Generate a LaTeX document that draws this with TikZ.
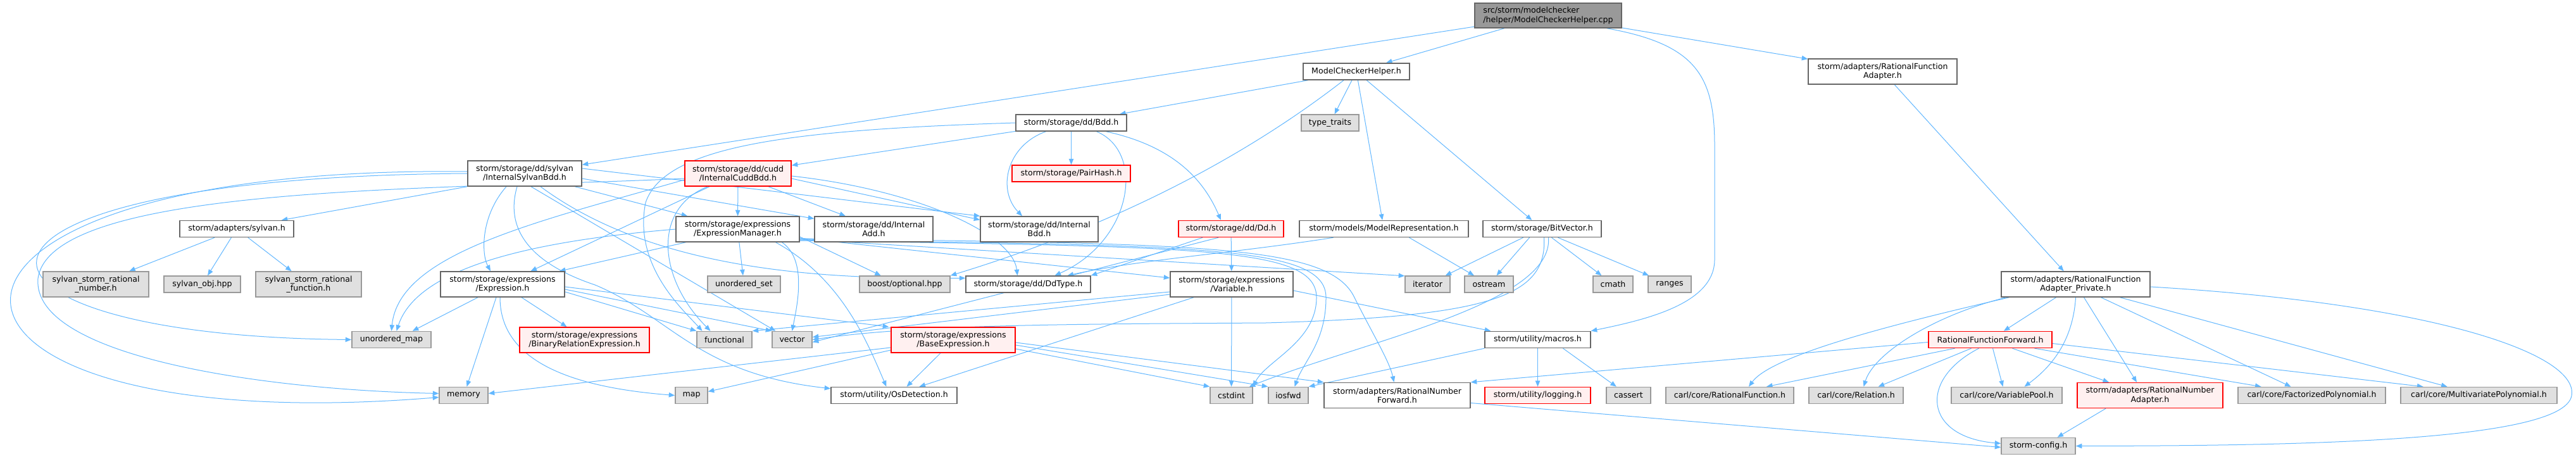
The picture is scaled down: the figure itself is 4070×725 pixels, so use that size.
\documentclass[tikz,border=0pt]{standalone}
\usepackage{fontspec}
\setmainfont{DejaVu Sans}
\usepackage{xcolor}
\definecolor{EdgeBlue}{RGB}{99,184,255}
\definecolor{BoxBorder}{RGB}{102,102,102}
\definecolor{SysBorder}{RGB}{153,153,153}
\definecolor{SysFill}{RGB}{224,224,224}
\definecolor{RedBorder}{RGB}{255,0,0}
\definecolor{RedFill}{RGB}{255,240,240}
\definecolor{RootFill}{RGB}{153,153,153}
\usepackage{tikz}
\usetikzlibrary{arrows.meta, backgrounds}

\begin{document}
\begin{tikzpicture}[x=1pt, y=1pt,
    hfile/.style={draw=BoxBorder, fill=white, line width=1.5pt, inner sep=0pt, align=center,
      minimum height=26pt, font=\fontsize{12.6}{14.3}\selectfont},
    twoline/.style={minimum height=40pt},
    sysfile/.style={hfile, draw=SysBorder, fill=SysFill},
    redfile/.style={hfile, draw=RedBorder, fill=RedFill},
    srcfile/.style={hfile, fill=RootFill, align=left},
    dep/.style={draw=EdgeBlue, line width=1pt, -{Triangle[length=9.5pt, width=7.5pt]}}]
\useasboundingbox (0,0) rectangle (4070,-725);
% Archivos / Files
\node[srcfile, minimum width=232pt, minimum height=39pt] (root) at (2446,-24.5) {src/storm/modelchecker\\/helper/ModelCheckerHelper.cpp};
\node[hfile, minimum width=168pt] (mch) at (2143,-113) {ModelCheckerHelper.h};
\node[hfile, twoline, minimum width=235pt] (rfadapter) at (2974.5,-113) {storm/adapters/RationalFunction\\Adapter.h};
\node[hfile, minimum width=175pt] (bdd) at (1692.5,-194) {storm/storage/dd/Bdd.h};
\node[sysfile, minimum width=91pt] (typetraits) at (2101.5,-194) {type\_traits};
\node[hfile, twoline, minimum width=180pt] (sylvanbdd) at (829,-274) {storm/storage/dd/sylvan\\/InternalSylvanBdd.h};
\node[redfile, twoline, minimum width=168pt] (cuddbdd) at (1166,-274) {storm/storage/dd/cudd\\/InternalCuddBdd.h};
\node[redfile, minimum width=187pt] (pairhash) at (1692.5,-274) {storm/storage/PairHash.h};
\node[hfile, minimum width=180pt] (sylvanh) at (374,-361.5) {storm/adapters/sylvan.h};
\node[hfile, twoline, minimum width=195pt] (exprmgr) at (1165.5,-362) {storm/storage/expressions\\/ExpressionManager.h};
\node[hfile, twoline, minimum width=187pt] (internaladd) at (1380.5,-362) {storm/storage/dd/Internal\\Add.h};
\node[hfile, twoline, minimum width=186pt] (internalbdd) at (1642,-362) {storm/storage/dd/Internal\\Bdd.h};
\node[redfile, minimum width=166pt] (dd) at (1945,-361.5) {storm/storage/dd/Dd.h};
\node[hfile, minimum width=267pt] (modelrep) at (2186.5,-361.5) {storm/models/ModelRepresentation.h};
\node[hfile, minimum width=187pt] (bitvector) at (2436.5,-361.5) {storm/storage/BitVector.h};
\node[sysfile, twoline, minimum width=167pt] (srnumber) at (151.5,-449) {sylvan\_storm\_rational\\\_number.h};
\node[sysfile, minimum width=121pt] (sylvanobj) at (319.5,-449) {sylvan\_obj.hpp};
\node[sysfile, twoline, minimum width=167pt] (srfunction) at (487.5,-449) {sylvan\_storm\_rational\\\_function.h};
\node[hfile, twoline, minimum width=196pt] (expression) at (794,-449) {storm/storage/expressions\\/Expression.h};
\node[sysfile, minimum width=115pt] (uset) at (1175.5,-449) {unordered\_set};
\node[sysfile, minimum width=143pt] (boostopt) at (1429.5,-449) {boost/optional.hpp};
\node[hfile, minimum width=197pt] (ddtype) at (1624.5,-449) {storm/storage/dd/DdType.h};
\node[hfile, twoline, minimum width=194pt] (variable) at (1946,-449) {storm/storage/expressions\\/Variable.h};
\node[sysfile, minimum width=71pt] (iterator) at (2255.5,-449) {iterator};
\node[sysfile, minimum width=77pt] (ostream) at (2352.5,-449) {ostream};
\node[sysfile, minimum width=63pt] (cmath) at (2548.5,-449) {cmath};
\node[sysfile, minimum width=68pt] (ranges) at (2638,-449) {ranges};
\node[hfile, twoline, minimum width=235pt] (rfprivate) at (3279.5,-449) {storm/adapters/RationalFunction\\Adapter\_Private.h};
\node[sysfile, minimum width=125pt] (umap) at (618.5,-536.5) {unordered\_map};
\node[redfile, twoline, minimum width=205pt] (binrel) at (923.5,-537) {storm/storage/expressions\\/BinaryRelationExpression.h};
\node[sysfile, minimum width=87pt] (functional) at (1144.5,-536.5) {functional};
\node[sysfile, minimum width=63pt] (vector) at (1251.5,-536.5) {vector};
\node[redfile, twoline, minimum width=196pt] (baseexpr) at (1506,-537) {storm/storage/expressions\\/BaseExpression.h};
\node[hfile, minimum width=167pt] (macros) at (2429.5,-536.5) {storm/utility/macros.h};
\node[redfile, minimum width=195pt] (rfforward) at (3144.5,-536.5) {RationalFunctionForward.h};
\node[sysfile, minimum width=77pt] (memory) at (732.5,-624.5) {memory};
\node[sysfile, minimum width=51pt] (map) at (1092.5,-624.5) {map};
\node[hfile, minimum width=199pt] (osdet) at (1412.5,-624.5) {storm/utility/OsDetection.h};
\node[sysfile, minimum width=67pt] (cstdint) at (1945.5,-624.5) {cstdint};
\node[sysfile, minimum width=63pt] (iosfwd) at (2035.5,-624.5) {iosfwd};
\node[hfile, twoline, minimum width=231pt] (rnforward) at (2207.5,-624.5) {storm/adapters/RationalNumber\\Forward.h};
\node[redfile, minimum width=167pt] (logging) at (2429.5,-624.5) {storm/utility/logging.h};
\node[sysfile, minimum width=70pt] (cassert) at (2573,-624.5) {cassert};
\node[sysfile, minimum width=202pt] (carlrf) at (2733,-624.5) {carl/core/RationalFunction.h};
\node[sysfile, minimum width=149pt] (carlrel) at (2932.5,-624.5) {carl/core/Relation.h};
\node[sysfile, minimum width=175pt] (varpool) at (3170.5,-624.5) {carl/core/VariablePool.h};
\node[redfile, twoline, minimum width=230pt] (rnadapter) at (3397,-624.5) {storm/adapters/RationalNumber\\Adapter.h};
\node[sysfile, minimum width=233pt] (factpoly) at (3652.5,-624.5) {carl/core/FactorizedPolynomial.h};
\node[sysfile, minimum width=247pt] (multipoly) at (3916.5,-624.5) {carl/core/MultivariatePolynomial.h};
\node[sysfile, minimum width=117pt] (config) at (3220.5,-704.5) {storm-config.h};
\begin{scope}[on background layer]
\fill[white] (0,0) rectangle (4070,-725);
% Raiz / Root
\draw[dep] (root) -- (sylvanbdd);
\draw[dep] (root) -- (mch);
\draw[dep] ([xshift=-24pt]root.south east) .. controls (2680,-70) and (2709,-120) .. (2709,-230) -- (2709,-410) .. controls (2709,-480) and (2600,-505) .. (macros.north east);
\draw[dep] (root) -- (rfadapter);
% ModelCheckerHelper.h
\draw[dep] (mch) -- (bdd);
\draw[dep] (mch) -- (typetraits);
\draw[dep] (mch) -- (modelrep);
\draw[dep] (mch) -- (bitvector);
\draw[dep] ([xshift=-20pt]mch.south) .. controls (1900,-300) and (1650,-390) .. (boostopt.north east);
% Bdd.h
\draw[dep] (bdd) -- (cuddbdd);
\draw[dep] (bdd) -- (pairhash);
\draw[dep] ([xshift=-40pt]bdd.south) .. controls (1590,-230) and (1575,-300) .. ([xshift=-27pt]internalbdd.north);
\draw[dep] ([xshift=40pt]bdd.south) .. controls (1810,-240) and (1790,-380) .. ([xshift=42pt]ddtype.north);
\draw[dep] ([xshift=55pt]bdd.south) .. controls (1850,-230) and (1900,-280) .. ([xshift=-16pt]dd.north);
\draw[dep] (bdd.west) .. controls (1250,-205) and (1050,-230) .. (1020,-320) .. controls (1000,-420) and (1080,-490) .. ([xshift=-35pt]functional.north);
% InternalSylvanBdd.h
\draw[dep] (sylvanbdd.south west) -- ([xshift=-20pt]sylvanh.north east);
\draw[dep] ([yshift=3pt]sylvanbdd.west) .. controls (-230,-260) and (-200,-700) .. ([yshift=-3pt]memory.west);
\draw[dep] (sylvanbdd.west) .. controls (-150,-280) and (-120,-530) .. (umap.west);
\draw[dep] (sylvanbdd) -- (exprmgr);
\draw[dep] ([yshift=-8pt]sylvanbdd.east) -- (internaladd.170);
\draw[dep] ([yshift=8pt]sylvanbdd.east) -- (internalbdd.north west);
\draw[dep] ([xshift=-29pt]sylvanbdd.south) .. controls (760,-340) and (760,-400) .. ([xshift=-19pt]expression.north);
\draw[dep] ([xshift=-12pt]sylvanbdd.south) .. controls (795,-370) and (850,-420) .. (940,-450) .. controls (1060,-500) and (1100,-590) .. ([yshift=-3pt]osdet.north west);
\draw[dep] ([xshift=10pt]sylvanbdd.south) -- ([xshift=6pt]vector.north west);
\draw[dep] ([xshift=25pt]sylvanbdd.south) .. controls (1050,-440) and (1350,-440) .. ([yshift=-4pt]ddtype.north west);
% InternalCuddBdd.h
\draw[dep] ([yshift=-8pt]cuddbdd.west) .. controls (700,-300) and (80,-290) .. (60,-440) .. controls (50,-560) and (400,-615) .. ([yshift=3pt]memory.west);
\draw[dep] (cuddbdd) -- (exprmgr);
\draw[dep] ([xshift=48pt]cuddbdd.south) -- (internaladd.155);
\draw[dep] ([yshift=-8pt]cuddbdd.east) -- ([yshift=-6pt]internalbdd.north west);
\draw[dep] ([xshift=-45pt]cuddbdd.south) -- (expression.25);
\draw[dep] ([xshift=-48pt]cuddbdd.south) .. controls (1030,-330) and (1040,-440) .. ([xshift=-22pt]functional.north);
\draw[dep] ([yshift=-10pt]cuddbdd.west) .. controls (850,-350) and (630,-400) .. (umap.north);
\draw[dep] ([yshift=-4pt]cuddbdd.east) .. controls (1450,-300) and (1600,-370) .. ([xshift=-17pt]ddtype.north);
% ExpressionManager.h
\draw[dep] ([xshift=-82pt]exprmgr.south) -- (expression.13);
\draw[dep] (exprmgr) -- (uset);
\draw[dep] (exprmgr.west) .. controls (850,-380) and (660,-420) .. ([xshift=8pt]umap.north);
\draw[dep] ([xshift=70pt]exprmgr.south) .. controls (1275,-410) and (1260,-480) .. (vector.north);
\draw[dep] ([yshift=-12pt]exprmgr.east) -- (boostopt.160);
\draw[dep] ([yshift=-14pt]exprmgr.east) -- ([yshift=10pt]variable.west);
\draw[dep] ([yshift=-16pt]exprmgr.east) -- (iterator.160);
\draw[dep] ([yshift=-18pt]exprmgr.east) .. controls (1900,-390) and (2080,-390) .. (2080,-470) .. controls (2080,-540) and (2000,-570) .. (cstdint.north east);
\draw[dep] ([yshift=-17pt]exprmgr.east) .. controls (1900,-388) and (2095,-388) .. (2095,-470) .. controls (2095,-540) and (2060,-570) .. ([xshift=10pt]iosfwd.north);
\draw[dep] ([yshift=-15pt]exprmgr.east) .. controls (1900,-385) and (2100,-386) .. (2140,-470) .. controls (2170,-530) and (2195,-570) .. ([xshift=-5pt]rnforward.north);
\draw[dep] ([xshift=60pt]exprmgr.south) .. controls (1330,-440) and (1370,-540) .. ([xshift=-12pt]osdet.north);
% Expression.h
\draw[dep] ([xshift=30pt]expression.south) -- ([xshift=-28pt]binrel.north);
\draw[dep] ([xshift=-39pt]expression.south) -- ([xshift=-30pt]umap.north east);
\draw[dep] ([xshift=-10pt]expression.south) -- ([xshift=5pt]memory.north);
\draw[dep] ([xshift=-4pt]expression.south) .. controls (790,-560) and (880,-610) .. (map.west);
\draw[dep] ([yshift=-12pt]expression.east) -- (functional.north west);
\draw[dep] ([yshift=-8pt]expression.east) -- (vector.north west);
\draw[dep] ([yshift=-4pt]expression.east) -- ([xshift=-3pt]baseexpr.north west);
% BaseExpression.h
\draw[dep] ([yshift=-12pt]baseexpr.west) -- ([yshift=3pt]memory.east);
\draw[dep] ([yshift=-16pt]baseexpr.west) -- ([yshift=6pt]map.east);
\draw[dep] ([xshift=-20pt]baseexpr.south) -- ([xshift=20pt]osdet.north);
\draw[dep] ([yshift=-14pt]baseexpr.east) -- (cstdint.north west);
\draw[dep] ([yshift=-8pt]baseexpr.east) -- (iosfwd.north west);
\draw[dep] ([yshift=-4pt]baseexpr.east) -- (rnforward.north west);
% Variable.h
\draw[dep] (variable) -- (cstdint);
\draw[dep] ([xshift=-60pt]variable.south) -- ([xshift=40pt]osdet.north);
\draw[dep] ([yshift=-12pt]variable.west) -- (functional.north east);
\draw[dep] ([yshift=-16pt]variable.west) -- ([yshift=4pt]vector.east);
\draw[dep] ([yshift=-10pt]variable.east) -- ([xshift=10pt]macros.north west);
% Dd.h
\draw[dep] (dd) -- (variable);
\draw[dep] ([xshift=-45pt]dd.south) -- (ddtype.north east);
\draw[dep] ([xshift=-20pt]dd.south) -- ([yshift=-4pt]vector.east);
% ModelRepresentation.h
\draw[dep] ([xshift=40pt]modelrep.south) -- (ostream);
\draw[dep] ([xshift=-80pt]modelrep.south) .. controls (1950,-400) and (1800,-410) .. ([xshift=62pt]ddtype.north);
% BitVector.h
\draw[dep] ([xshift=-30pt]bitvector.south) -- (iterator);
\draw[dep] ([xshift=-20pt]bitvector.south) -- (ostream);
\draw[dep] ([xshift=15pt]bitvector.south) -- (cmath);
\draw[dep] ([xshift=25pt]bitvector.south) -- (ranges);
\draw[dep] ([xshift=3pt]bitvector.south) .. controls (2445,-470) and (2350,-500) .. (2000,-510) .. controls (1700,-512) and (1450,-512) .. (vector.east);
\draw[dep] ([xshift=10pt]bitvector.south) .. controls (2455,-480) and (2150,-540) .. ([xshift=-6pt]cstdint.north east);
% macros.h
\draw[dep] (macros) -- (logging);
\draw[dep] ([xshift=40pt]macros.south) -- (cassert);
\draw[dep] (macros.south west) -- (iosfwd.north east);
% sylvan.h
\draw[dep] (sylvanh) -- (srnumber);
\draw[dep] (sylvanh) -- (sylvanobj);
\draw[dep] (sylvanh) -- (srfunction);
% RationalFunction
\draw[dep] (rfadapter) -- (rfprivate);
\draw[dep] ([xshift=-31pt]rfprivate.south) -- (rfforward);
\draw[dep] ([xshift=-105pt]rfprivate.south) .. controls (3000,-510) and (2800,-560) .. ([xshift=30pt]carlrf.north);
\draw[dep] ([xshift=-110pt]rfprivate.south) .. controls (3050,-500) and (2960,-560) .. ([xshift=12pt]carlrel.north);
\draw[dep] (rfprivate.south) .. controls (3275,-540) and (3240,-580) .. ([xshift=28pt]varpool.north);
\draw[dep] ([xshift=13pt]rfprivate.south) -- ([xshift=-21pt]rnadapter.north);
\draw[dep] ([xshift=40pt]rfprivate.south) -- ([xshift=-33pt]factpoly.north);
\draw[dep] ([xshift=70pt]rfprivate.south) -- ([xshift=-50pt]multipoly.north);
\draw[dep] ([yshift=-4pt]rfprivate.east) .. controls (3850,-480) and (4075,-560) .. (4063,-625) .. controls (4050,-700) and (3600,-704) .. (config.east);
\draw[dep] ([yshift=-4pt]rfforward.west) -- (rnforward.north east);
\draw[dep] ([xshift=-56pt]rfforward.south) -- ([xshift=58pt]carlrf.north);
\draw[dep] ([xshift=-30pt]rfforward.south) -- ([xshift=35pt]carlrel.north);
\draw[dep] ([xshift=4pt]rfforward.south) -- ([xshift=-6pt]varpool.north);
\draw[dep] ([xshift=35pt]rfforward.south) -- ([xshift=-65pt]rnadapter.north);
\draw[dep] ([xshift=70pt]rfforward.south) -- ([xshift=-80pt]factpoly.north);
\draw[dep] ([yshift=-6pt]rfforward.east) -- ([xshift=-88pt]multipoly.north);
\draw[dep] ([xshift=-18pt]rfforward.south) .. controls (3030,-600) and (3040,-690) .. ([yshift=4pt]config.west);
\draw[dep] ([yshift=-12pt]rnforward.east) -- ([yshift=-2pt]config.west);
\draw[dep] ([xshift=-70pt]rnadapter.south) -- ([xshift=30pt]config.north);
\end{scope}
\end{tikzpicture}
\end{document}
